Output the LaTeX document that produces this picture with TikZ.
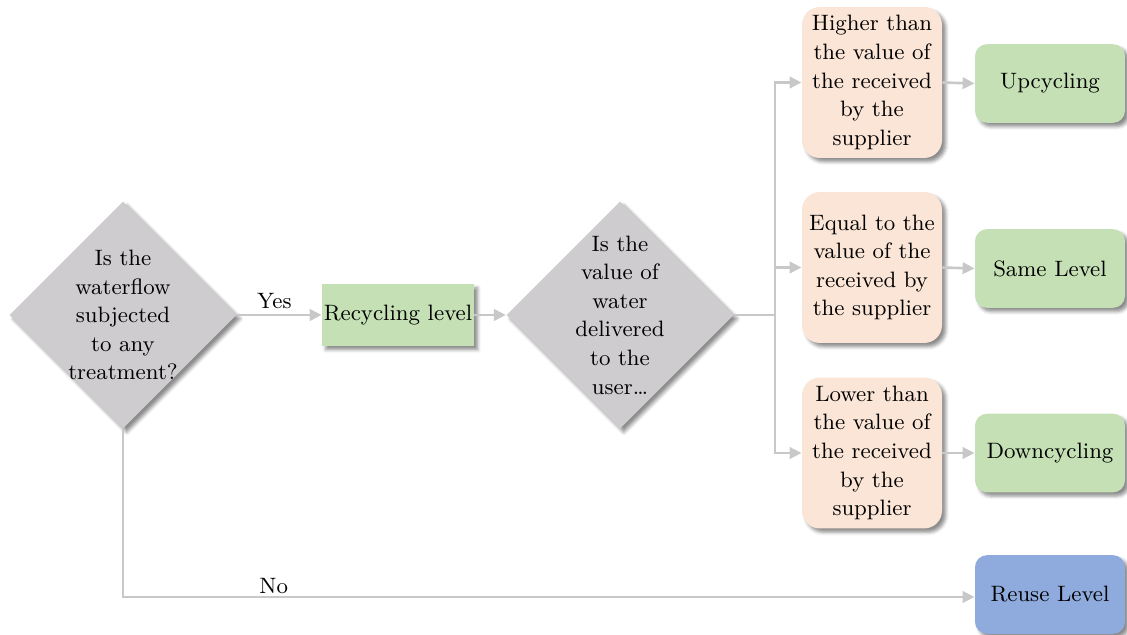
\documentclass[tikz,border=0pt]{standalone}
\usetikzlibrary{shapes.geometric,arrows.meta,shadows.blur}
\definecolor{decgray}{RGB}{206,204,206}
\definecolor{levgreen}{RGB}{197,224,180}
\definecolor{valpeach}{RGB}{251,229,214}
\definecolor{reuseblue}{RGB}{143,170,220}
\definecolor{linkgray}{RGB}{200,200,200}
\tikzset{
  shade/.style={blur shadow={shadow xshift=1.6pt,shadow yshift=-1.6pt,shadow blur radius=1.4pt,shadow opacity=45}},
  decision/.style={diamond,aspect=1,fill=decgray,inner sep=0pt,minimum width=95.5pt,minimum height=95.5pt,shade},
  dtext/.style={align=center,inner sep=0pt},
  levelbox/.style={rectangle,fill=levgreen,inner sep=0pt,minimum width=63.8pt,minimum height=26pt,shade},
  valuebox/.style={rectangle,rounded corners=7.5pt,fill=valpeach,align=center,inner sep=0pt,minimum width=58.8pt,minimum height=63.4pt,shade},
  outbox/.style={rectangle,rounded corners=5pt,fill=levgreen,inner sep=0pt,minimum width=63pt,minimum height=33pt,shade},
  reusebox/.style={outbox,fill=reuseblue},
  link/.style={draw=linkgray,line width=1.1pt},
  arrowlink/.style={link,-{Triangle[length=5pt,width=4.8pt]}},
}
\begin{document}
\begin{tikzpicture}[x=0.42pt,y=-0.42pt,font=\fontsize{9.35pt}{12pt}\selectfont]
\useasboundingbox (0,0) rectangle (1127,635);

% first decision
\node[decision] (d1) at (123,315) {};
\node[dtext] (d1t) at (d1.center) {Is the\\waterflow\\subjected\\to any\\treatment?};

% recycling level
\node[levelbox] (rec) at (398,315) {Recycling level};

% second decision
\node[decision] (d2) at (620,315) {};
\node[dtext] (d2t) at (d2.center) {Is the\\value of\\water\\delivered\\to the\\user\ldots};

% value comparisons
\node[valuebox] (p1) at (872,82.5) {Higher than\\the value of\\the received\\by the\\supplier};
\node[valuebox] (p2) at (872,267.5) {Equal to the\\value of the\\received by\\the supplier};
\node[valuebox] (p3) at (872,453) {Lower than\\the value of\\the received\\by the\\supplier};

% outcomes
\node[outbox] (up) at (1050,83.5) {Upcycling};
\node[outbox] (same) at (1050,268.5) {Same Level};
\node[outbox] (down) at (1050,453) {Downcycling};
\node[reusebox] (reuse) at (1050,594.5) {Reuse Level};

% connectors
\draw[arrowlink] (d1.east) -- node[above,inner sep=2pt,pos=0.44] (yes) {Yes} (rec.west);
\draw[arrowlink] (rec.east) -- (d2.west);
\coordinate (br) at (775,315);
\draw[link] (d2.east) -- (br);
\draw[arrowlink] (br) |- (p1.west);
\draw[arrowlink] (br) |- (p2.west);
\draw[arrowlink] (br) |- (p3.west);
\draw[arrowlink] (p1.east) -- (up.west);
\draw[arrowlink] (p2.east) -- (same.west);
\draw[arrowlink] (p3.east) -- (down.west);
\coordinate (corner) at (123,597);
\draw[arrowlink] (d1.south) -- (corner) -- node[above,inner sep=1pt,pos=0.177] (no) {No} (corner -| reuse.west);
\end{tikzpicture}
\end{document}
